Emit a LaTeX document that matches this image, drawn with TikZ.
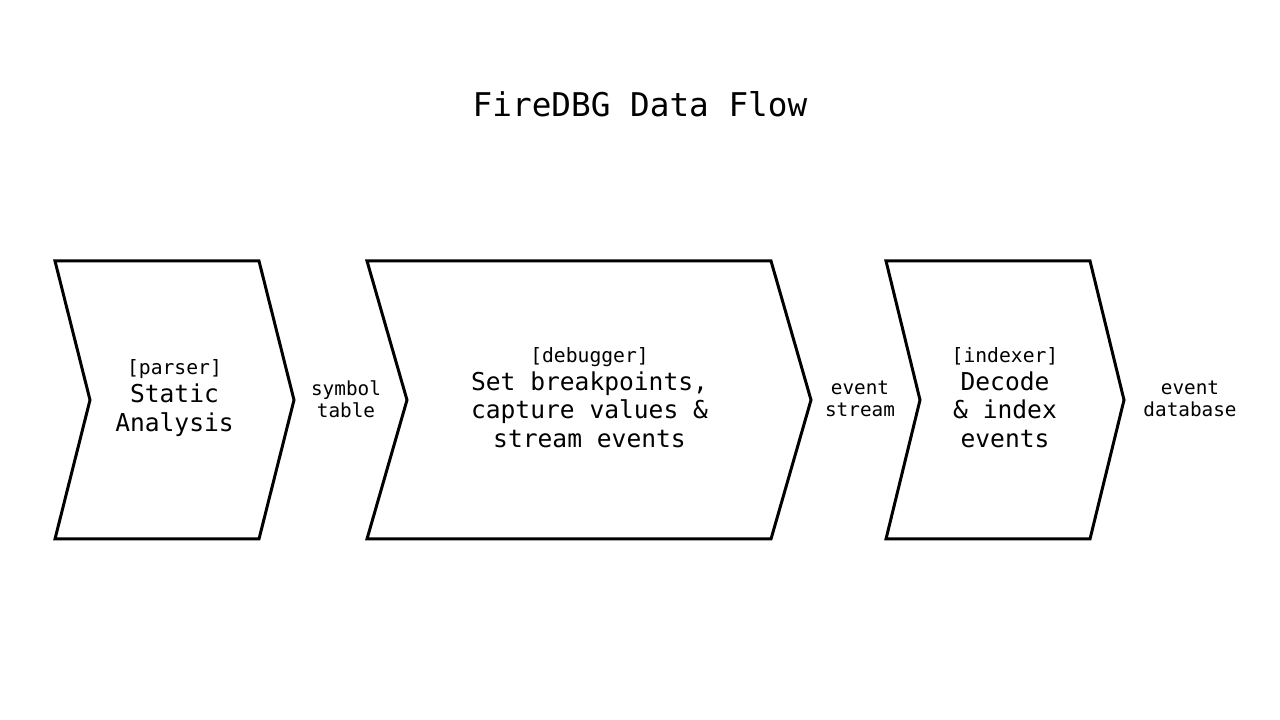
\documentclass[tikz,border=0pt]{standalone}
\usepackage{fontspec}
\setmainfont{DejaVu Sans Mono}
\usepackage{tikz}
\usetikzlibrary{positioning}

\begin{document}
\begin{tikzpicture}[
        chev/.style={draw, line width=0.85pt, line join=miter},
        stage/.style={align=center, font=\fontsize{7}{8.2}\selectfont, inner sep=0pt},
        flow/.style={align=center, font=\fontsize{5.5}{6.2}\selectfont, inner sep=0pt},
      ]
        \useasboundingbox (0,0) rectangle (12.8,7.2);

        % title
        \node[font=\fontsize{9.3}{11}\selectfont] (title) at (6.4, 6.16) {FireDBG Data Flow};

        % chevrons
        \foreach \name/\xl/\xr/\d in {parse/0.55/2.59/0.35, debug/3.67/7.71/0.40, index/8.86/10.90/0.34} {
          \draw[chev] (\xl,4.59) -- (\xr,4.59) -- (\xr+\d,3.2) -- (\xr,1.81)
            -- (\xl,1.81) -- (\xl+\d,3.2) -- cycle;
        }

        % stage texts
        \node[stage] (parse) at (1.745, 3.22)
          {{\fontsize{5.6}{7.5}\selectfont [parser]}\\[-0.4pt] Static\\ Analysis};
        \node[stage] (debug) at (5.895, 3.22)
          {{\fontsize{5.6}{7.5}\selectfont [debugger]}\\[-0.4pt] Set breakpoints,\\ capture values \&\\ stream events};
        \node[stage] (index) at (10.05, 3.22)
          {{\fontsize{5.6}{7.5}\selectfont [indexer]}\\[-0.4pt] Decode\\ \& index\\ events};

        % data between stages
        \node[flow] (symtab) at (3.46, 3.21) {symbol\\ table};
        \node[flow] (evstream) at (8.60, 3.21) {event\\ stream};
        \node[flow] (evdb) at (11.90, 3.21) {event\\ database};
      \end{tikzpicture}
\end{document}
